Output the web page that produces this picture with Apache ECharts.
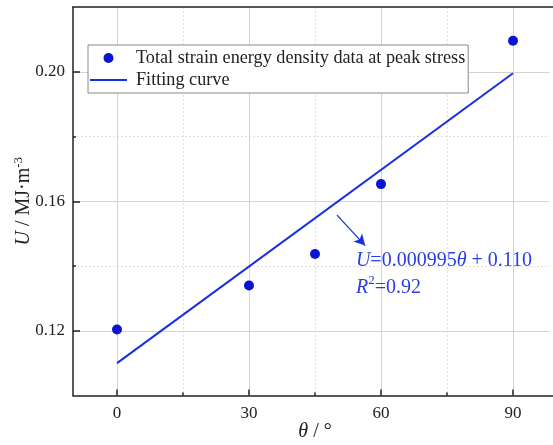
<!DOCTYPE html>
<html><head><meta charset="utf-8">
<script src="https://cdn.jsdelivr.net/npm/echarts@6/dist/echarts.min.js"></script>
<style>html,body{margin:0;padding:0;background:#fff;overflow:hidden}#c{width:553px;height:445px}</style>
</head><body><div id="c"></div>
<script>
const angles = [0, 30, 45, 60, 90];
const energy = [0.1204, 0.1340, 0.1437, 0.1653, 0.2096];
const fitX = [0, 90];
const fitSlope = 0.000995, fitIntercept = 0.110;
const fitY = fitX.map(x => fitSlope * x + fitIntercept);
const xTicks = [0, 30, 60, 90];
const xMinorTicks = [15, 45, 75];
const yTicks = [0.12, 0.16, 0.20];
const yMinorTicks = [0.14, 0.18];
const arrowFrom = [50, 0.1557], arrowTo = [56.4, 0.1463];
const eqAnchor = [54.3, 0.1374];

const serif = '"Liberation Serif", "DejaVu Serif", serif';
const ink = '#222';
const chart = echarts.init(document.getElementById('c'));
const xRange = { min: -10, max: 100 };
const yRange = { min: 0.10, max: 0.22 };
const majorSplit = { show: true, lineStyle: { color: '#d4d4d4', width: 1 } };
const minorSplit = { show: true, lineStyle: { color: '#e0e0e0', width: 1, type: [2, 2] } };
chart.setOption({
  animation: false,
  backgroundColor: '#fff',
  grid: { left: 73, top: 7, width: 484, height: 388.5, outerBoundsMode: 'none', containLabel: false },
  graphic: [{ type: 'rect', right: 0, top: 9, z: 100, silent: true,
    shape: { width: 3.5, height: 385 }, style: { fill: '#fff' } }],
  legend: {
    orient: 'vertical', left: 88, top: 45,
    borderColor: '#888', borderWidth: 1, backgroundColor: '#fff',
    padding: [4, 3, 4, 2], itemGap: 4, itemWidth: 37, itemHeight: 10,
    textStyle: { fontFamily: serif, fontSize: 18.2, color: ink, lineHeight: 18, padding: [0, 0, 0, 4] },
    data: [
      { name: 'Total strain energy density data at peak stress', icon: 'circle' },
      { name: 'Fitting curve', icon: 'path://M0,0 L37,0 L37,2 L0,2 Z', itemStyle: { color: '#1530e0' } }
    ]
  },
  xAxis: [{
    type: 'value', ...xRange, position: 'bottom',
    name: '{i|θ} / °', nameLocation: 'middle', nameGap: 26, nameMoveOverlap: false,
    nameTextStyle: { fontFamily: serif, fontSize: 20, color: ink, rich: { i: { fontStyle: 'italic', fontFamily: serif, fontSize: 20, color: ink } } },
    axisLine: { onZero: false, lineStyle: { color: ink, width: 1.5 } },
    axisTick: { inside: true, length: 6, lineStyle: { color: ink, width: 1.5 }, customValues: xTicks },
    axisLabel: { fontFamily: serif, fontSize: 17, color: ink, margin: 10, customValues: xTicks },
    splitLine: majorSplit
  }, {
    type: 'value', ...xRange, position: 'bottom',
    axisLine: { show: false, onZero: false },
    axisTick: { inside: true, length: 3, lineStyle: { color: ink, width: 1.5 }, customValues: xMinorTicks },
    axisLabel: { show: false, customValues: xMinorTicks },
    splitLine: minorSplit
  }, {
    type: 'value', ...xRange, position: 'top',
    axisLine: { show: true, onZero: false, lineStyle: { color: ink, width: 1.5 } },
    axisTick: { show: false }, axisLabel: { show: false }, splitLine: { show: false }
  }],
  yAxis: [{
    type: 'value', ...yRange, position: 'left',
    name: '{i|U} / MJ·m{s|-3}', nameLocation: 'middle', nameGap: 38, nameMoveOverlap: false,
    nameTextStyle: { fontFamily: serif, fontSize: 20, color: ink,
      rich: { i: { fontStyle: 'italic', fontFamily: serif, fontSize: 20, color: ink },
              s: { fontFamily: serif, fontSize: 13, color: ink, verticalAlign: 'top', padding: [0, 0, 10, 0] } } },
    axisLine: { show: true, onZero: false, lineStyle: { color: ink, width: 1.5 } },
    axisTick: { inside: true, length: 7, lineStyle: { color: ink, width: 1.5 }, customValues: yTicks },
    axisLabel: { fontFamily: serif, fontSize: 17, color: ink, margin: 8, customValues: yTicks,
      formatter: v => v.toFixed(2) },
    splitLine: majorSplit
  }, {
    type: 'value', ...yRange, position: 'left',
    axisLine: { show: false, onZero: false },
    axisTick: { inside: true, length: 3, lineStyle: { color: ink, width: 1.5 }, customValues: yMinorTicks },
    axisLabel: { show: false, customValues: yMinorTicks },
    splitLine: minorSplit
  }],
  series: [
    {
      name: 'Total strain energy density data at peak stress', type: 'scatter',
      data: angles.map((a, i) => [a, energy[i]]),
      symbol: 'circle', symbolSize: 10, itemStyle: { color: '#0a14d2', opacity: 1 }, z: 5
    },
    {
      name: 'Fitting curve', type: 'line', symbol: 'none',
      data: fitX.map((x, i) => [x, fitY[i]]),
      lineStyle: { color: '#1530e0', width: 2 }, itemStyle: { color: '#1530e0' },
      markLine: {
        silent: true, symbol: ['none', 'arrow'], symbolSize: [9, 11],
        label: { show: false },
        lineStyle: { color: '#1a2fd8', width: 1.3, type: 'solid' },
        data: [[{ coord: arrowFrom }, { coord: arrowTo }]]
      },
      markPoint: {
        silent: true, symbol: 'circle', symbolSize: 0,
        data: [{ coord: eqAnchor }],
        label: {
          show: true, position: 'right', distance: 0, align: 'left',
          formatter: '{i|U}{t|=0.000995}{i|θ}{t| + 0.110}\n{i|R}{s|2}{t|=0.92}',
          rich: {
            t: { fontFamily: serif, fontSize: 20, color: '#2a3de4', lineHeight: 27 },
            i: { fontFamily: serif, fontSize: 20, fontStyle: 'italic', color: '#2a3de4', lineHeight: 27 },
            s: { fontFamily: serif, fontSize: 13, color: '#2a3de4', verticalAlign: 'top', lineHeight: 27, padding: [0, 0, 8, 0] }
          }
        }
      }
    }
  ]
});
</script></body></html>
